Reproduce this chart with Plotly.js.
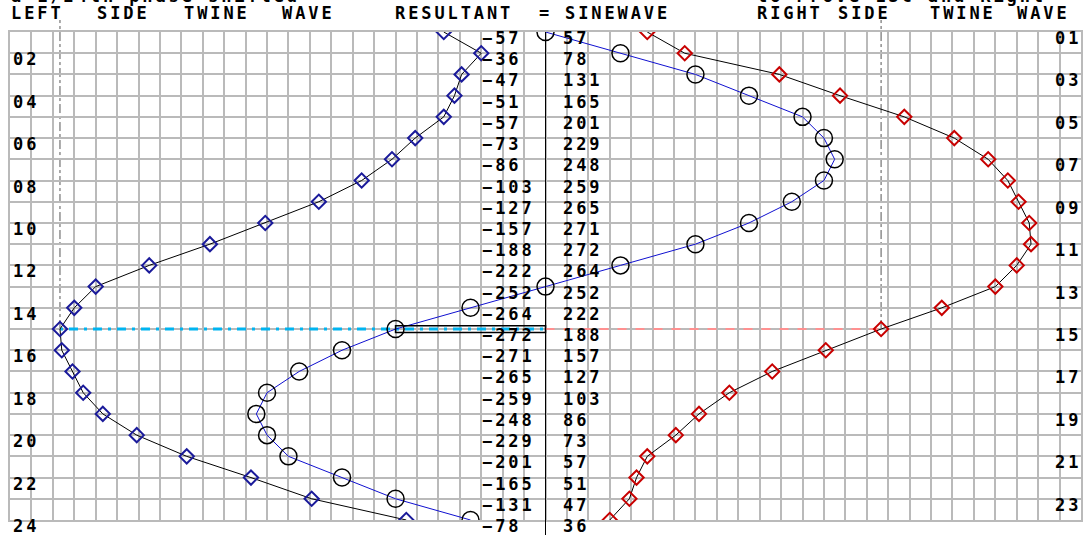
<!DOCTYPE html>
<html><head><meta charset="utf-8">
<script src="https://cdn.plot.ly/plotly-3.0.1.min.js"></script>
<style>
html,body{margin:0;padding:0;background:#fff;}
#chart{width:1088px;height:535px;}
.annotation-text{letter-spacing:2.9px;}
</style></head><body><div id="chart"></div>
<script>
// ---- data ----
const rows = [1,2,3,4,5,6,7,8,9,10,11,12,13,14,15,16,17,18,19,20,21,22,23,24];
const rowLabels = ['01','02','03','04','05','06','07','08','09','10','11','12','13','14','15','16','17','18','19','20','21','22','23','24'];
const leftWave  = [-57,-36,-47,-51,-57,-73,-86,-103,-127,-157,-188,-222,-252,-264,-272,-271,-265,-259,-248,-229,-201,-165,-131,-78];
const rightWave = [57,78,131,165,201,229,248,259,265,271,272,264,252,222,188,157,127,103,86,73,57,51,47,36];
const resultant = [0,42,84,114,144,156,162,156,138,114,84,42,0,-42,-84,-114,-138,-156,-162,-156,-144,-114,-84,-42];
const markRow = 15;

const topLeftText = 'a 1/24th phase shifted';
const topRightText = 'to Prove LSC and Right';
const headerWords = [
  {t:'LEFT', px:9}, {t:'SIDE', px:95}, {t:'TWINE', px:182}, {t:'WAVE', px:280},
  {t:'RESULTANT', px:393}, {t:'=', px:537}, {t:'SINEWAVE', px:563},
  {t:'RIGHT', px:755}, {t:'SIDE', px:836}, {t:'TWINE', px:928}, {t:'WAVE', px:1015}
];

// ---- layout constants ----
const W = 1088, H = 535;
const M = {l:10, r:7, t:32, b:15};
const XR = [-300, 300], YR = [24, 1];
const plotW = W - M.l - M.r, plotH = H - M.t - M.b;
const pxToPaperX = px => (px - M.l) / plotW;
const rowToPaperY = r => (YR[0] - r) / (YR[0] - YR[1]);

const FONT = {family:'DejaVu Sans Mono, monospace', size:17, color:'#000', weight:700};
const GRID = '#bababa';
const idx = rows.indexOf(markRow);
const minus = v => (v < 0 ? '\u2212' + Math.abs(v) : String(v));

const traces = [
  {x:resultant, y:rows, mode:'lines+markers', type:'scatter', hoverinfo:'skip',
   line:{color:'#1010d0', width:1},
   marker:{symbol:'circle-open', size:17, color:'#000', line:{width:1.5, color:'#000'}}},
  {x:leftWave, y:rows, mode:'lines+markers', type:'scatter', hoverinfo:'skip',
   line:{color:'#000', width:1},
   marker:{symbol:'diamond-open', size:11, color:'#1a1a9a', line:{width:2, color:'#1a1a9a'}}},
  {x:rightWave, y:rows, mode:'lines+markers', type:'scatter', hoverinfo:'skip',
   line:{color:'#000', width:1},
   marker:{symbol:'diamond-open', size:11, color:'#c80000', line:{width:2, color:'#c80000'}}}
];

const annotations = [];
rows.forEach((r, i) => {
  const even = r % 2 === 0;
  annotations.push({xref:'x', yref:'y', x: even ? XR[0] : XR[1], y:r,
    xanchor: even ? 'left' : 'right', yanchor:'top', xshift: even ? 2 : 1, yshift:5, borderpad:0,
    text: rowLabels[i], showarrow:false, font:FONT});
  annotations.push({xref:'x', yref:'y', x:-36, y:r, xanchor:'left', yanchor:'top', yshift:5, borderpad:0,
    text: minus(leftWave[i]), showarrow:false, font:FONT});
  annotations.push({xref:'x', yref:'y', x:9, y:r, xanchor:'left', yanchor:'top', yshift:5, borderpad:0,
    text: minus(rightWave[i]), showarrow:false, font:FONT});
});
headerWords.forEach(h => annotations.push({xref:'paper', yref:'paper', x:pxToPaperX(h.px), y:1,
  xanchor:'left', yanchor:'bottom', yshift:7, text:h.t, showarrow:false, font:FONT}));
annotations.push({xref:'paper', yref:'paper', x:pxToPaperX(9), y:1, xanchor:'left', yanchor:'bottom',
  yshift:24, text:topLeftText, showarrow:false, font:FONT});
annotations.push({xref:'paper', yref:'paper', x:pxToPaperX(755), y:1, xanchor:'left', yanchor:'bottom',
  yshift:24, text:topRightText, showarrow:false, font:FONT});

const shapes = [
  {type:'line', xref:'x', yref:'paper', x0:0, x1:0, y0:-M.b/plotH, y1:1, line:{color:'#000', width:1}},
  {type:'line', xref:'x', yref:'paper', x0:leftWave[idx], x1:leftWave[idx], y0:rowToPaperY(markRow), y1:1+12/plotH,
   line:{color:'#555', width:1, dash:'dashdot'}, layer:'between'},
  {type:'line', xref:'x', yref:'paper', x0:rightWave[idx], x1:rightWave[idx], y0:rowToPaperY(markRow), y1:1+12/plotH,
   line:{color:'#555', width:1, dash:'dashdot'}, layer:'between'},
  {type:'line', xref:'x', yref:'y', x0:leftWave[idx], x1:0, y0:markRow, y1:markRow,
   line:{color:'#00b4f0', width:3, dash:'3px,6px,9px,6px'}, layer:'between'},
  {type:'line', xref:'x', yref:'y', x0:0, x1:rightWave[idx], y0:markRow, y1:markRow,
   line:{color:'#ff9090', width:2, dash:'dash'}, layer:'between'},
  {type:'rect', xref:'x', yref:'y', x0:resultant[idx], x1:0, y0:markRow-0.16, y1:markRow+0.16,
   line:{color:'#000', width:1.5}}
];

const axisCommon = {showgrid:true, gridcolor:GRID, gridwidth:2, zeroline:false, showticklabels:false,
  ticks:'', showline:true, linecolor:GRID, linewidth:2, mirror:true, fixedrange:true};

const layout = {
  width:W, height:H, margin:M, paper_bgcolor:'#fff', plot_bgcolor:'#fff', showlegend:false,
  xaxis:Object.assign({range:XR, dtick:12, tick0:0}, axisCommon),
  yaxis:Object.assign({range:YR, dtick:1, tick0:1}, axisCommon),
  annotations, shapes
};

Plotly.newPlot('chart', traces, layout, {staticPlot:true, displayModeBar:false});
</script></body></html>
